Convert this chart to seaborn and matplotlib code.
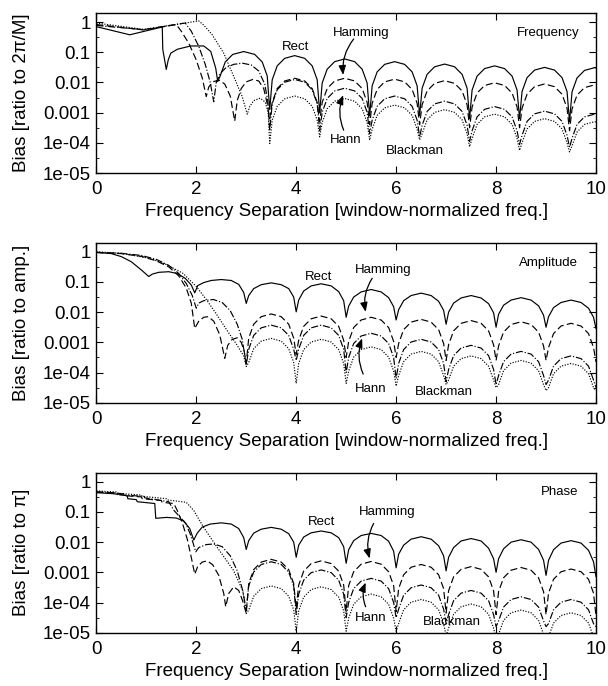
import matplotlib.pyplot as plt
import numpy as np
import pandas as pd
import seaborn as sns
from matplotlib.ticker import NullFormatter

# ---- data (y values are log10 of the bias) ----
windows = ["Rect", "Hamming", "Hann", "Blackman"]

# x positions of the regular side-lobe region (nulls at half integers)
freq_lobe_x = [
    3.47, 3.52, 3.62, 3.77, 3.97, 4.17, 4.32, 4.42,
    4.47, 4.52, 4.62, 4.77, 4.97, 5.17, 5.32, 5.42,
    5.47, 5.52, 5.62, 5.77, 5.97, 6.17, 6.32, 6.42,
    6.47, 6.52, 6.62, 6.77, 6.97, 7.17, 7.32, 7.42,
    7.47, 7.52, 7.62, 7.77, 7.97, 8.17, 8.32, 8.42,
    8.47, 8.52, 8.62, 8.77, 8.97, 9.17, 9.32, 9.42,
    9.47, 9.52, 9.62, 9.77, 9.97, 10.0,
]
# x positions of the regular side-lobe region (nulls at integers)
int_lobe_x = [
    3.0, 3.05, 3.15, 3.3, 3.5, 3.7, 3.85, 3.95,
    4.0, 4.05, 4.15, 4.3, 4.5, 4.7, 4.85, 4.95,
    5.0, 5.05, 5.15, 5.3, 5.5, 5.7, 5.85, 5.95,
    6.0, 6.05, 6.15, 6.3, 6.5, 6.7, 6.85, 6.95,
    7.0, 7.05, 7.15, 7.3, 7.5, 7.7, 7.85, 7.95,
    8.0, 8.05, 8.15, 8.3, 8.5, 8.7, 8.85, 8.95,
    9.0, 9.05, 9.15, 9.3, 9.5, 9.7, 9.85, 9.95,
    10.0,
]

# frequency panel
freq_rect_x = [0.0, 0.67, 1.32, 1.33, 1.40, 1.44, 1.49, 1.62, 1.89, 2.15,
               2.29, 2.39, 2.43, 2.48, 2.58, 2.73, 2.95, 3.17, 3.32, 3.42]
freq_rect_early = [-0.15, -0.42, -0.16, -0.9, -1.57, -1.25, -1.03, -0.90, -0.79, -0.79,
                   -0.97, -1.53, -1.97, -1.78, -1.32, -1.07, -0.975, -1.07, -1.32, -1.78]
freq_rect_lobes = [
    -2.9, -1.91, -1.45, -1.20, -1.11, -1.20, -1.45, -1.91,
    -3.0, -2.02, -1.56, -1.31, -1.22, -1.31, -1.56, -2.02,
    -3.1, -2.11, -1.65, -1.40, -1.31, -1.40, -1.65, -2.11,
    -3.1, -2.19, -1.73, -1.48, -1.39, -1.48, -1.73, -2.19,
    -3.2, -2.25, -1.79, -1.54, -1.45, -1.54, -1.79, -2.25,
    -3.2, -2.30, -1.84, -1.59, -1.50, -1.59, -1.84, -2.30,
    -3.3, -2.31, -1.85, -1.60, -1.51, -1.52,
]
freq_hamming_x = [0.0, 0.95, 1.6, 1.7, 1.85, 2.0, 2.12, 2.2, 2.25, 2.33, 2.45,
                  2.57, 2.68, 2.77, 2.82, 2.9, 3.0, 3.13, 3.25, 3.35, 3.42]
freq_hamming_early = [-0.08, -0.26, -0.08, -0.3, -0.7, -1.25, -1.85, -2.47, -2.15, -1.98, -1.92,
                      -2.05, -2.45, -3.28, -2.6, -2.2, -1.98, -1.9, -1.95, -2.2, -2.7]
freq_hamming_lobes = [
    -3.2, -2.66, -2.20, -1.95, -1.86, -1.95, -2.20, -2.66,
    -3.3, -2.66, -2.20, -1.95, -1.86, -1.95, -2.20, -2.66,
    -3.4, -2.69, -2.23, -1.98, -1.89, -1.98, -2.23, -2.69,
    -3.4, -2.74, -2.28, -2.03, -1.94, -2.03, -2.28, -2.74,
    -3.5, -2.81, -2.35, -2.10, -2.01, -2.10, -2.35, -2.81,
    -3.5, -2.85, -2.39, -2.14, -2.05, -2.14, -2.39, -2.85,
    -3.6, -2.88, -2.42, -2.17, -2.08, -2.09,
]
freq_hann_x = [0.0, 0.95, 1.78, 1.9, 2.05, 2.18, 2.28, 2.35, 2.40, 2.48,
               2.6, 2.75, 2.92, 3.1, 3.25, 3.37, 3.43]
freq_hann_early = [-0.11, -0.25, -0.03, -0.3, -0.8, -1.4, -2.0, -2.64, -2.0, -1.7,
                   -1.5, -1.4, -1.36, -1.42, -1.62, -2.05, -2.6]
freq_hann_lobes = [
    -3.6, -2.70, -2.24, -1.99, -1.90, -1.99, -2.24, -2.70,
    -3.6, -2.99, -2.53, -2.28, -2.19, -2.28, -2.53, -2.99,
    -3.7, -3.25, -2.79, -2.54, -2.45, -2.54, -2.79, -3.25,
    -3.8, -3.42, -2.96, -2.71, -2.62, -2.71, -2.96, -3.42,
    -3.95, -3.60, -3.14, -2.89, -2.80, -2.89, -3.14, -3.60,
    -4.05, -3.75, -3.29, -3.04, -2.95, -3.04, -3.29, -3.75,
    -4.15, -3.85, -3.39, -3.14, -3.05, -3.06,
]
freq_blackman_x = [0.0, 0.95, 2.05, 2.15, 2.32, 2.55, 2.75, 2.92, 3.02, 3.07,
                   3.15, 3.28, 3.38, 3.44]
freq_blackman_early = [-0.03, -0.24, 0.04, -0.1, -0.42, -1.03, -1.8, -2.47, -3.05, -2.8,
                       -2.6, -2.52, -2.65, -3.0]
freq_blackman_lobes = [
    -4.02, -3.25, -2.79, -2.54, -2.45, -2.54, -2.79, -3.25,
    -3.8, -3.33, -2.87, -2.62, -2.53, -2.62, -2.87, -3.33,
    -3.91, -3.55, -3.09, -2.84, -2.75, -2.84, -3.09, -3.55,
    -3.9, -3.70, -3.24, -2.99, -2.90, -2.99, -3.24, -3.70,
    -4.13, -3.85, -3.39, -3.14, -3.05, -3.14, -3.39, -3.85,
    -4.25, -4.00, -3.54, -3.29, -3.20, -3.29, -3.54, -4.00,
    -4.3, -4.10, -3.64, -3.39, -3.30, -3.31,
]

# amplitude panel
amp_rect_x = [0.0, 0.3, 0.5, 0.7, 0.9, 1.05, 1.12, 1.25, 1.45, 1.62,
              1.78, 1.9, 1.97, 2.03, 2.15, 2.3, 2.5, 2.7, 2.85, 2.95]
amp_rect_early = [-0.02, -0.06, -0.16, -0.33, -0.6, -0.82, -0.74, -0.68, -0.66, -0.72,
                  -0.88, -1.1, -1.36, -1.12, -1.02, -0.95, -0.92, -0.95, -1.08, -1.35]
amp_rect_lobes = [
    -1.71, -1.45, -1.22, -1.09, -1.03, -1.09, -1.22, -1.5,
    -1.99, -1.6, -1.3, -1.13, -1.06, -1.13, -1.32, -1.62,
    -2.17, -1.8, -1.5, -1.33, -1.25, -1.33, -1.52, -1.82,
    -2.26, -1.92, -1.62, -1.45, -1.37, -1.45, -1.64, -1.94,
    -2.4, -2.0, -1.7, -1.53, -1.45, -1.53, -1.72, -2.02,
    -2.5, -2.07, -1.77, -1.6, -1.52, -1.6, -1.79, -2.1,
    -2.5, -2.15, -1.85, -1.68, -1.6, -1.68, -1.87, -2.17,
    -2.55,
]
amp_hamming_x = [0.0, 0.5, 0.9, 1.2, 1.45, 1.65, 1.8, 1.9, 1.97, 2.05,
                 2.15, 2.24, 2.35, 2.47, 2.57, 2.63, 2.72, 2.82, 2.9, 2.96]
amp_hamming_early = [-0.02, -0.06, -0.15, -0.3, -0.5, -0.8, -1.2, -1.7, -2.54, -2.3,
                     -2.17, -2.15, -2.3, -2.75, -3.53, -3.1, -2.9, -2.85, -3.0, -3.3]
amp_hamming_lobes = [
    -3.7, -2.86, -2.40, -2.15, -2.06, -2.15, -2.40, -2.86,
    -3.4, -2.93, -2.47, -2.22, -2.13, -2.22, -2.47, -2.93,
    -3.5, -2.97, -2.51, -2.26, -2.17, -2.26, -2.51, -2.97,
    -3.5, -3.04, -2.58, -2.33, -2.24, -2.33, -2.58, -3.04,
    -3.6, -3.08, -2.62, -2.37, -2.28, -2.37, -2.62, -3.08,
    -3.6, -3.12, -2.66, -2.41, -2.32, -2.41, -2.66, -3.12,
    -3.6, -3.17, -2.71, -2.46, -2.37, -2.46, -2.71, -3.17,
    -3.65,
]
amp_hann_x = [0.0, 0.5, 0.9, 1.2, 1.45, 1.65, 1.8, 1.92, 2.0, 2.05,
              2.15, 2.34, 2.52, 2.68, 2.82, 2.92]
amp_hann_early = [-0.02, -0.05, -0.12, -0.25, -0.45, -0.72, -1.05, -1.45, -1.87, -1.7,
                  -1.62, -1.58, -1.68, -1.95, -2.4, -2.9]
amp_hann_lobes = [
    -3.75, -3.23, -2.77, -2.52, -2.43, -2.52, -2.77, -3.23,
    -3.6, -3.23, -2.77, -2.52, -2.43, -2.52, -2.77, -3.23,
    -4.0, -3.50, -3.04, -2.79, -2.70, -2.79, -3.04, -3.50,
    -4.2, -3.70, -3.24, -2.99, -2.90, -2.99, -3.24, -3.70,
    -4.3, -3.90, -3.44, -3.19, -3.10, -3.19, -3.44, -3.90,
    -4.4, -4.10, -3.64, -3.39, -3.30, -3.39, -3.64, -4.10,
    -4.4, -4.25, -3.79, -3.54, -3.45, -3.54, -3.79, -4.25,
    -4.5,
]
amp_blackman_x = [0.0, 0.5, 1.08, 1.4, 1.74, 2.0, 2.21, 2.41, 2.61, 2.8, 2.95]
amp_blackman_early = [0.0, -0.05, -0.22, -0.42, -0.72, -1.15, -1.6, -2.08, -2.59, -3.05, -3.45]
amp_blackman_lobes = [
    -3.8, -3.67, -3.21, -2.96, -2.87, -2.96, -3.21, -3.67,
    -4.36, -3.70, -3.24, -2.99, -2.90, -2.99, -3.24, -3.70,
    -4.36, -3.95, -3.49, -3.24, -3.15, -3.24, -3.49, -3.95,
    -4.45, -4.10, -3.64, -3.39, -3.30, -3.39, -3.64, -4.10,
    -4.4, -4.25, -3.79, -3.54, -3.45, -3.54, -3.79, -4.25,
    -4.5, -4.40, -3.94, -3.69, -3.60, -3.69, -3.94, -4.40,
    -4.6, -4.50, -4.04, -3.79, -3.70, -3.79, -4.04, -4.50,
    -4.6,
]

# phase panel
ph_rect_x = [0.0, 0.3, 0.5, 0.62, 0.63, 0.8, 0.82, 1.0, 1.17, 1.19, 1.4,
             1.6, 1.75, 1.87, 1.95, 2.02, 2.12, 2.28, 2.5, 2.7, 2.85, 2.95]
ph_rect_early = [-0.36, -0.39, -0.42, -0.47, -0.56, -0.59, -0.66, -0.69, -0.72, -1.21, -1.18,
                 -1.2, -1.3, -1.55, -1.93, -1.7, -1.5, -1.4, -1.36, -1.4, -1.55, -1.85]
ph_rect_lobes = [
    -2.24, -1.95, -1.7, -1.57, -1.51, -1.57, -1.72, -2.0,
    -2.5, -2.1, -1.83, -1.69, -1.63, -1.69, -1.85, -2.15,
    -2.7, -2.25, -1.95, -1.78, -1.71, -1.78, -1.97, -2.3,
    -2.85, -2.4, -2.1, -1.9, -1.82, -1.9, -2.12, -2.45,
    -2.95, -2.5, -2.18, -1.96, -1.88, -1.96, -2.2, -2.55,
    -3.0, -2.55, -2.22, -2.0, -1.92, -2.0, -2.24, -2.6,
    -3.1, -2.6, -2.25, -2.03, -1.95, -2.03, -2.27, -2.65,
    -3.15,
]
ph_hamming_x = [0.0, 0.3, 0.55, 0.57, 0.9, 0.92, 1.3, 1.32, 1.55, 1.62, 1.72, 1.82, 1.9,
                1.97, 2.03, 2.12, 2.22, 2.33, 2.45, 2.55, 2.59, 2.65, 2.75, 2.85, 2.93]
ph_hamming_early = [-0.33, -0.36, -0.4, -0.46, -0.5, -0.56, -0.62, -0.68, -0.72, -0.95, -1.35,
                    -1.9, -2.5, -3.06, -2.8, -2.66, -2.62, -2.75, -3.1, -3.7, -4.14, -3.7,
                    -3.48, -3.6, -3.95]
ph_hamming_lobes = [
    -4.36, -3.37, -2.91, -2.66, -2.57, -2.66, -2.91, -3.37,
    -4.2, -3.42, -2.96, -2.71, -2.62, -2.71, -2.96, -3.42,
    -4.3, -3.44, -2.98, -2.73, -2.64, -2.73, -2.98, -3.44,
    -4.3, -3.54, -3.08, -2.83, -2.74, -2.83, -3.08, -3.54,
    -4.35, -3.61, -3.15, -2.90, -2.81, -2.90, -3.15, -3.61,
    -4.4, -3.64, -3.18, -2.93, -2.84, -2.93, -3.18, -3.64,
    -4.4, -3.69, -3.23, -2.98, -2.89, -2.98, -3.23, -3.69,
    -4.45,
]
ph_hann_x = [0.0, 0.4, 0.42, 0.95, 0.97, 1.45, 1.5, 1.55, 1.79, 1.89, 1.99,
             2.05, 2.2, 2.35, 2.52, 2.68, 2.82, 2.93]
ph_hann_early = [-0.34, -0.37, -0.43, -0.48, -0.53, -0.66, -0.8, -0.94, -1.38, -1.77, -2.32,
                 -2.18, -2.08, -2.06, -2.15, -2.45, -2.95, -3.6]
ph_hann_lobes = [
    -4.25, -3.45, -2.99, -2.74, -2.65, -2.74, -2.99, -3.45,
    -4.4, -3.72, -3.26, -3.01, -2.92, -3.01, -3.26, -3.72,
    -4.5, -4.00, -3.54, -3.29, -3.20, -3.29, -3.54, -4.00,
    -4.5, -4.22, -3.76, -3.51, -3.42, -3.51, -3.76, -4.22,
    -4.7, -4.40, -3.94, -3.69, -3.60, -3.69, -3.94, -4.40,
    -4.8, -4.61, -4.15, -3.90, -3.81, -3.90, -4.15, -4.61,
    -4.8, -4.70, -4.24, -3.99, -3.90, -3.99, -4.24, -4.70,
    -4.8,
]
ph_blackman_x = [0.0, 0.4, 0.42, 0.9, 0.92, 1.4, 1.42, 1.8, 1.95, 2.14, 2.41, 2.74, 2.93]
ph_blackman_early = [-0.3, -0.34, -0.38, -0.44, -0.48, -0.56, -0.6, -0.68, -0.95, -1.49,
                     -2.15, -2.92, -3.6]
ph_blackman_lobes = [
    -4.36, -4.25, -3.79, -3.54, -3.45, -3.54, -3.79, -4.25,
    -4.95, -4.28, -3.82, -3.57, -3.48, -3.57, -3.82, -4.28,
    -4.95, -4.52, -4.06, -3.81, -3.72, -3.81, -4.06, -4.52,
    -4.95, -4.70, -4.24, -3.99, -3.90, -3.99, -4.24, -4.70,
    -5.1, -4.85, -4.39, -4.14, -4.05, -4.14, -4.39, -4.85,
    -5.2, -5.05, -4.59, -4.34, -4.25, -4.34, -4.59, -5.05,
    -5.2, -5.14, -4.68, -4.43, -4.34, -4.43, -4.68, -5.14,
    -5.2,
]

ytick_vals = [1e-5, 1e-4, 1e-3, 1e-2, 1e-1, 1]
ytick_labels = ["1e-05", "1e-04", "0.001", "0.01", "0.1", "1"]
xtick_vals = [0, 2, 4, 6, 8, 10]

# label text, x, log10(y)
freq_labels = [("Rect", 3.99, -0.84), ("Hamming", 5.31, -0.37), ("Hann", 4.99, -3.91),
               ("Blackman", 6.37, -4.27), ("Frequency", 9.05, -0.37)]
amp_labels = [("Rect", 4.45, -0.85), ("Hamming", 5.75, -0.61), ("Hann", 5.49, -4.56),
              ("Blackman", 6.95, -4.64), ("Amplitude", 9.05, -0.36)]
ph_labels = [("Rect", 4.5, -1.32), ("Hamming", 5.82, -0.99), ("Hann", 5.49, -4.5),
             ("Blackman", 7.12, -4.64), ("Phase", 9.27, -0.33)]
# arrows: tail (x, log y), tip (x, log y)
freq_arrows = [((5.15, -0.56), (4.94, -1.75)), ((4.95, -3.58), (4.94, -2.42))]
amp_arrows = [((5.52, -0.88), (5.39, -1.99)), ((5.34, -4.05), (5.32, -2.87))]
ph_arrows = [((5.55, -1.38), (5.47, -2.54)), ((5.39, -4.14), (5.39, -3.34))]


def curve_frame(x_early, log_early, x_lobes, log_lobes, window):
    x = list(x_early) + list(x_lobes)
    logs = list(log_early) + list(log_lobes)
    return pd.DataFrame({"sep": x, "bias": 10.0 ** np.array(logs), "window": window})


panels = [
    {
        "df": pd.concat([
            curve_frame(freq_rect_x, freq_rect_early, freq_lobe_x, freq_rect_lobes, "Rect"),
            curve_frame(freq_hamming_x, freq_hamming_early, freq_lobe_x, freq_hamming_lobes, "Hamming"),
            curve_frame(freq_hann_x, freq_hann_early, freq_lobe_x, freq_hann_lobes, "Hann"),
            curve_frame(freq_blackman_x, freq_blackman_early, freq_lobe_x, freq_blackman_lobes, "Blackman"),
        ]),
        "ylabel": "Bias [ratio to 2π/M]",
        "labels": freq_labels,
        "arrows": freq_arrows,
        "bottom": 0.7478,
    },
    {
        "df": pd.concat([
            curve_frame(amp_rect_x, amp_rect_early, int_lobe_x, amp_rect_lobes, "Rect"),
            curve_frame(amp_hamming_x, amp_hamming_early, int_lobe_x, amp_hamming_lobes, "Hamming"),
            curve_frame(amp_hann_x, amp_hann_early, int_lobe_x, amp_hann_lobes, "Hann"),
            curve_frame(amp_blackman_x, amp_blackman_early, int_lobe_x, amp_blackman_lobes, "Blackman"),
        ]),
        "ylabel": "Bias [ratio to amp.]",
        "labels": amp_labels,
        "arrows": amp_arrows,
        "bottom": 0.4130,
    },
    {
        "df": pd.concat([
            curve_frame(ph_rect_x, ph_rect_early, int_lobe_x, ph_rect_lobes, "Rect"),
            curve_frame(ph_hamming_x, ph_hamming_early, int_lobe_x, ph_hamming_lobes, "Hamming"),
            curve_frame(ph_hann_x, ph_hann_early, int_lobe_x, ph_hann_lobes, "Hann"),
            curve_frame(ph_blackman_x, ph_blackman_early, int_lobe_x, ph_blackman_lobes, "Blackman"),
        ]),
        "ylabel": "Bias [ratio to π]",
        "labels": ph_labels,
        "arrows": ph_arrows,
        "bottom": 0.0777,
    },
]

sns.set_style("ticks")
plt.rcParams["font.family"] = ["Liberation Sans", "DejaVu Sans"]
plt.rcParams["text.color"] = "black"
plt.rcParams["axes.labelcolor"] = "black"
plt.rcParams["xtick.color"] = "black"
plt.rcParams["ytick.color"] = "black"

dashes = {"Rect": "", "Hamming": (6, 2.8), "Hann": (6, 1.6, 1, 1.6), "Blackman": (1, 1.3)}

fig = plt.figure(figsize=(6.08, 6.86), dpi=100)

for panel in panels:
    ax = fig.add_axes([0.1584, panel["bottom"], 0.8219, 0.2332])
    ax.set_yscale("log")
    sns.lineplot(
        data=panel["df"],
        x="sep",
        y="bias",
        style="window",
        style_order=windows,
        dashes=dashes,
        color="black",
        lw=0.85,
        estimator=None,
        sort=False,
        legend=False,
        ax=ax,
    )

    ax.set_xlim(0, 10)
    ax.set_ylim(1e-5, 2)
    ax.set_xticks(xtick_vals)
    ax.set_yticks(ytick_vals, labels=ytick_labels)
    ax.set_yticks([10 ** (k + 0.5) for k in range(-5, 0)], minor=True)
    ax.yaxis.set_minor_formatter(NullFormatter())
    ax.tick_params(which="both", direction="in", top=True, right=True, color="black")
    ax.tick_params(which="major", length=5, width=0.8, labelsize=13.5, labelcolor="black")
    ax.tick_params(which="minor", length=2.5, width=0.6)
    ax.tick_params(axis="x", pad=6)
    ax.tick_params(axis="y", pad=4)
    for spine in ax.spines.values():
        spine.set_linewidth(1.0)
        spine.set_color("black")

    ax.set_xlabel("Frequency Separation [window-normalized freq.]", fontsize=13.5)
    ax.set_ylabel(panel["ylabel"], fontsize=13.5)
    ax.xaxis.set_label_coords(0.5, -0.19)
    ax.yaxis.set_label_coords(-0.133, 0.5)

    for name, tx, ty in panel["labels"]:
        ax.text(tx, 10 ** ty, name, ha="center", va="center", fontsize=9.5, color="black")

    (tail_h, tip_h), (tail_n, tip_n) = panel["arrows"]
    for tail, tip, rad in [(tail_h, tip_h, 0.2), (tail_n, tip_n, -0.2)]:
        ax.annotate(
            "",
            xy=(tip[0], 10 ** tip[1]),
            xytext=(tail[0], 10 ** tail[1]),
            arrowprops=dict(
                arrowstyle="-|>,head_length=0.55,head_width=0.22",
                connectionstyle=f"arc3,rad={rad}",
                color="black",
                lw=0.9,
                shrinkA=0,
                shrinkB=0,
                mutation_scale=10,
            ),
        )

fig.savefig("out.png", dpi=100)
